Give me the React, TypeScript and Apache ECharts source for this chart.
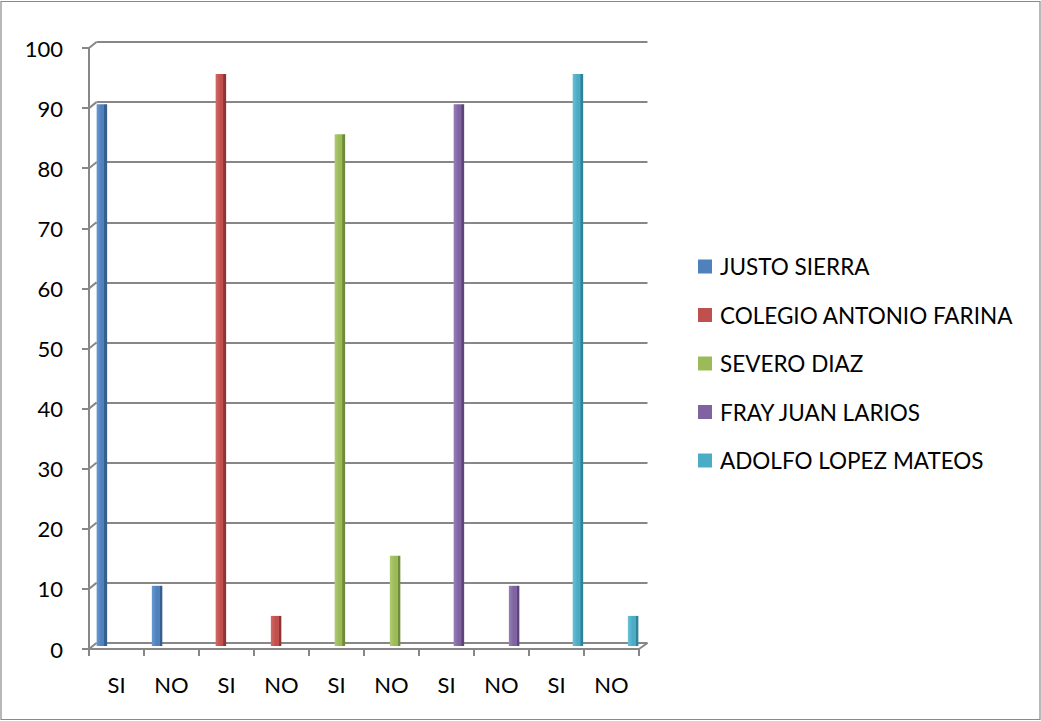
import React, { useEffect, useRef } from "react";
import * as echarts from "echarts";

const categories = ["SI", "NO", "SI", "NO", "SI", "NO", "SI", "NO", "SI", "NO"];
const seriesNames = [
  "JUSTO SIERRA",
  "COLEGIO ANTONIO FARINA",
  "SEVERO DIAZ",
  "FRAY JUAN LARIOS",
  "ADOLFO LOPEZ MATEOS",
];
const justoSierra = [90, 10, null, null, null, null, null, null, null, null];
const colegioAntonioFarina = [null, null, 95, 5, null, null, null, null, null, null];
const severoDiaz = [null, null, null, null, 85, 15, null, null, null, null];
const frayJuanLarios = [null, null, null, null, null, null, 90, 10, null, null];
const adolfoLopezMateos = [null, null, null, null, null, null, null, null, 95, 5];
const yTicks = [0, 10, 20, 30, 40, 50, 60, 70, 80, 90, 100];

const seriesData = [justoSierra, colegioAntonioFarina, severoDiaz, frayJuanLarios, adolfoLopezMateos];
const frontColors = ["#4F81BD", "#C0504D", "#9BBB59", "#8064A2", "#4BACC6"];
const lightColors = ["#6A98D0", "#D26A67", "#AFCB72", "#9680B6", "#6CC0D6"];
const sideColors = ["#365F8F", "#8E3533", "#6E8A3A", "#5C4579", "#2F8298"];

const FONT = "Lato, 'Noto Sans', sans-serif";
const LINE = "#878787";

export default function App() {
  const ref = useRef<HTMLDivElement>(null);
  useEffect(() => {
    if (!ref.current) return;
    const chart = echarts.init(ref.current, null, { renderer: "svg" });

    // decorative 3D frame geometry
    const backLeft = 96.5, backTop = 42, backH = 601;
    const frontLeft = 89, frontTop = 48, frontH = 601, frontW = 550;
    const graphics: any[] = [
      { type: "rect", shape: { x: 1, y: 1.5, width: 1039, height: 718 }, style: { fill: "none", stroke: "#8a8a8a", lineWidth: 1.2 }, silent: true },
    ];
    yTicks.forEach((t) => {
      const yb = backTop + backH * (1 - t / 100);
      const yf = frontTop + frontH * (1 - t / 100);
      graphics.push({
        type: "line",
        shape: { x1: frontLeft, y1: yf, x2: backLeft, y2: yb },
        style: { stroke: LINE, lineWidth: 2 },
        silent: true,
      });
    });
    graphics.push({
      type: "line",
      shape: { x1: frontLeft + frontW, y1: frontTop + frontH, x2: backLeft + 551, y2: backTop + backH },
      style: { stroke: LINE, lineWidth: 2 },
      silent: true,
    });

    const option: any = {
      animation: false,
      backgroundColor: "#ffffff",
      textStyle: { fontFamily: FONT },
      graphic: graphics,
      legend: {
        orient: "vertical",
        left: 698,
        top: 255,
        padding: 0,
        itemWidth: 14,
        itemHeight: 14,
        itemGap: 25.5,
        icon: "rect",
        data: seriesNames.map((n, i) => ({ name: n, itemStyle: { color: frontColors[i] } })),
        textStyle: { fontSize: 22.5, color: "#000", fontFamily: FONT, padding: [0, 0, 0, 3], lineHeight: 22 },
      },
      grid: [
        { left: backLeft, top: backTop, width: 551, height: backH },
        { left: frontLeft, top: frontTop, width: frontW, height: frontH },
        { left: 91.5, top: 44, width: 552, height: 602 },
      ],
      xAxis: [
        { type: "category", gridIndex: 0, data: categories, show: false },
        {
          type: "category",
          gridIndex: 1,
          data: categories,
          axisLine: { show: true, lineStyle: { color: LINE, width: 2 } },
          axisTick: { show: true, length: 7, lineStyle: { color: LINE, width: 2 } },
          axisLabel: { color: "#000", fontSize: 22, margin: 24, fontFamily: FONT },
        },
        { type: "category", gridIndex: 2, data: categories, show: false },
      ],
      yAxis: [
        {
          type: "value",
          gridIndex: 0,
          min: 0,
          max: 100,
          interval: 10,
          axisLine: { show: false },
          axisTick: { show: false },
          axisLabel: { show: false },
          splitLine: { show: true, lineStyle: { color: LINE, width: 2 } },
        },
        {
          type: "value",
          gridIndex: 1,
          min: 0,
          max: 100,
          interval: 10,
          axisLine: { show: true, lineStyle: { color: LINE, width: 2 } },
          axisTick: { show: true, length: 7, lineStyle: { color: LINE, width: 2 } },
          axisLabel: { color: "#000", fontSize: 22, margin: 26, fontFamily: FONT },
          splitLine: { show: false },
        },
        { type: "value", gridIndex: 2, min: 0, max: 100, interval: 10, show: false, splitLine: { show: false } },
      ],
      series: seriesData.map((d, i) => ({
        type: "bar",
        name: seriesNames[i],
        xAxisIndex: 2,
        yAxisIndex: 2,
        data: d,
        barWidth: 10.5,
        barGap: "-18%",
        itemStyle: {
          color: new echarts.graphic.LinearGradient(0, 0, 1, 0, [
            { offset: 0, color: lightColors[i] },
            { offset: 0.45, color: frontColors[i] },
            { offset: 0.74, color: frontColors[i] },
            { offset: 0.75, color: sideColors[i] },
            { offset: 1, color: sideColors[i] },
          ]),
        },
      })),
    };
    chart.setOption(option);
    return () => chart.dispose();
  }, []);
  return (
    <div
      ref={ref}
      style={{ position: "absolute", left: 0, top: 0, width: 1041, height: 721, background: "#fff" }}
    />
  );
}
